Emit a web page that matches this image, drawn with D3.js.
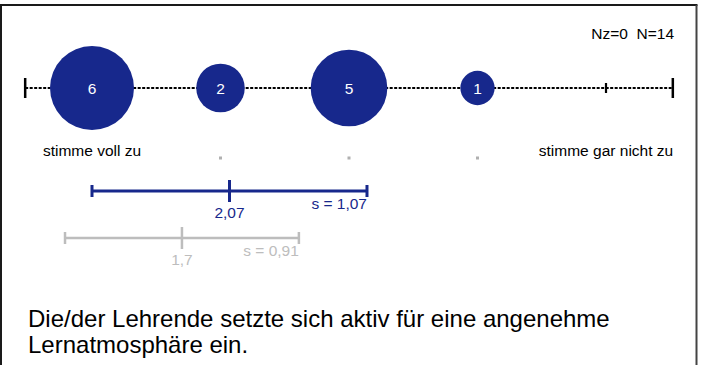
<!DOCTYPE html>
<html>
<head>
<meta charset="utf-8">
<script src="https://cdn.jsdelivr.net/npm/d3@7"></script>
<style>
body { margin: 0; background: #fff; }
svg { display: block; font-family: Arial, "Liberation Sans", sans-serif; }
</style>
</head>
<body>
<div id="canvas"></div>
<script>
// DATA -----------------------------------------------------
var categories = [1, 2, 3, 4, 5];
var counts = [6, 2, 5, 1, 0];
var poleLabels = ["stimme voll zu", "stimme gar nicht zu"];
var stats = [
  { mean: 2.07, sd: 1.07 },   // this course
  { mean: 1.7, sd: 0.91 }     // comparison
];
var nz = 0, n = 14;
var question = ["Die/der Lehrende setzte sich aktiv für eine angenehme", "Lernatmosphäre ein."];

// STRUCTURE ------------------------------------------------
var width = 702, height = 365;
var blue = "#17288c", grey = "#bdbdbd";
var de = d3.formatLocale({ decimal: ",", thousands: ".", grouping: [3], currency: ["", " €"] });
var fmt = de.format(".3~g");

var svg = d3.select("#canvas").append("svg")
  .attr("width", width)
  .attr("height", height);

// frame
var frame = svg.append("g").attr("class", "frame");
frame.append("line").attr("x1", 0).attr("x2", 697.5).attr("y1", 5).attr("y2", 5)
  .attr("stroke", "#1a1a1a").attr("stroke-width", 2);
frame.append("line").attr("x1", 1).attr("x2", 1).attr("y1", 5).attr("y2", height)
  .attr("stroke", "#1a1a1a").attr("stroke-width", 2);
frame.append("line").attr("x1", 696.5).attr("x2", 696.5).attr("y1", 5).attr("y2", height)
  .attr("stroke", "#444").attr("stroke-width", 2);

// SCALES ---------------------------------------------------
var x = d3.scaleLinear().domain([1, 5]).range([92, 606]);
var r = d3.scaleSqrt().domain([0, 6]).range([0, 42]);
var axisY = 88;

// dashed axis line
var axisG = svg.append("g").attr("class", "axis");
axisG.append("line")
  .attr("x1", x(0.48)).attr("x2", x(5.52))
  .attr("y1", axisY).attr("y2", axisY)
  .attr("stroke", "#000").attr("stroke-width", 2.2)
  .attr("stroke-dasharray", "3,1.5");
axisG.selectAll(".end")
  .data([0.48, 5.52])
  .enter().append("line")
  .attr("x1", (d) => x(d)).attr("x2", (d) => x(d))
  .attr("y1", axisY - 10).attr("y2", axisY + 10)
  .attr("stroke", "#000").attr("stroke-width", 2.5);

// empty categories get a small tick
axisG.selectAll(".zero")
  .data(categories.filter((c, i) => counts[i] === 0))
  .enter().append("line")
  .attr("x1", (d) => x(d)).attr("x2", (d) => x(d))
  .attr("y1", axisY - 5).attr("y2", axisY + 5)
  .attr("stroke", "#000").attr("stroke-width", 2.2);

// grey markers for inner categories
svg.selectAll(".dot")
  .data(categories.slice(1, -1))
  .enter().append("rect")
  .attr("x", (d) => x(d) - 1.5).attr("y", 156.5)
  .attr("width", 3).attr("height", 3)
  .attr("fill", "#b0b0b0");

// BUBBLES --------------------------------------------------
var bubbles = svg.selectAll(".bubble")
  .data(categories.map((c, i) => ({ cat: c, count: counts[i] })).filter((d) => d.count > 0))
  .enter().append("g");
bubbles.append("circle")
  .attr("cx", (d) => x(d.cat)).attr("cy", axisY)
  .attr("r", (d) => r(d.count))
  .attr("fill", blue);
bubbles.append("text")
  .attr("x", (d) => x(d.cat)).attr("y", axisY + 5.5)
  .attr("text-anchor", "middle")
  .attr("fill", "#fff").attr("font-size", 15.5)
  .text((d) => d.count);

// pole labels
svg.selectAll(".pole")
  .data(poleLabels)
  .enter().append("text")
  .attr("x", (d, i) => x(i === 0 ? 1 : 5)).attr("y", 156)
  .attr("text-anchor", "middle").attr("font-size", 15.5).attr("fill", "#000")
  .text((d) => d);

svg.append("text")
  .attr("x", 674).attr("y", 39)
  .attr("text-anchor", "end").attr("font-size", 15.5)
  .style("white-space", "pre")
  .text("Nz=" + nz + "  N=" + n);

// MEAN / SD BARS -------------------------------------------
var barStyle = [
  { y: 191, color: blue, w: 3 },
  { y: 238, color: grey, w: 2.5 }
];
stats.forEach((s, i) => {
  var st = barStyle[i];
  var g = svg.append("g").attr("class", "stat");
  var x0 = x(s.mean - s.sd), x1 = x(s.mean + s.sd), xm = x(s.mean);
  g.append("line").attr("x1", x0).attr("x2", x1).attr("y1", st.y).attr("y2", st.y)
    .attr("stroke", st.color).attr("stroke-width", st.w);
  [x0, x1].forEach((xx) => {
    g.append("line").attr("x1", xx).attr("x2", xx).attr("y1", st.y - 6).attr("y2", st.y + 6)
      .attr("stroke", st.color).attr("stroke-width", st.w);
  });
  g.append("line").attr("x1", xm).attr("x2", xm).attr("y1", st.y - 11).attr("y2", st.y + 11)
    .attr("stroke", st.color).attr("stroke-width", st.w);
  g.append("text")
    .attr("x", xm).attr("y", st.y + 27)
    .attr("text-anchor", "middle").attr("font-size", 15.5).attr("fill", st.color)
    .text(fmt(s.mean));
  g.append("text")
    .attr("x", x1).attr("y", st.y + 18)
    .attr("text-anchor", "end").attr("font-size", 15.5).attr("fill", st.color)
    .text("s = " + fmt(s.sd));
});

// QUESTION -------------------------------------------------
svg.selectAll(".question")
  .data(question)
  .enter().append("text")
  .attr("x", 28).attr("y", (d, i) => 327 + i * 26)
  .attr("font-size", 24).attr("fill", "#000")
  .text((d) => d);
</script>
</body>
</html>
